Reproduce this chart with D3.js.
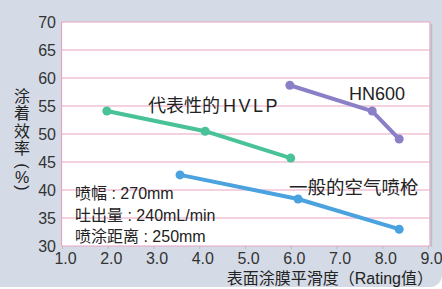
<!DOCTYPE html>
<html lang="zh">
<head>
<meta charset="utf-8" />
<style>
body { margin: 0; background: #fff; }
text { font-family: "Liberation Sans", "Noto Sans CJK SC", sans-serif; fill: #222; }
.grid { stroke: #e8a3c4; stroke-width: 1.2px; }
.tick text { fill: #333; }
</style>
</head>
<body>
<script src="https://cdn.jsdelivr.net/npm/d3@7"></script>
<script>
var xTicks = [1, 2, 3, 4, 5, 6, 7, 8, 9];
var yTicks = [30, 35, 40, 45, 50, 55, 60, 65, 70];

var hvlpX = [1.98, 4.13, 6.0];
var hvlpY = [54.1, 50.5, 45.7];
var hn600X = [5.98, 7.78, 8.37];
var hn600Y = [58.7, 54.1, 49.1];
var normalX = [3.58, 6.16, 8.37];
var normalY = [42.7, 38.4, 33.0];

var notes = ["喷幅 : 270mm", "吐出量 : 240mL/min", "喷涂距离 : 250mm"];
var yTitleChars = ["涂", "着", "效", "率", "(", "%", ")"];

var width = 442, height = 289;

var svg = d3.select("body").append("svg")
    .attr("width", width)
    .attr("height", height);

// background panel
svg.append("rect")
    .attr("x", -20).attr("y", -20)
    .attr("width", width + 20).attr("height", height + 18)
    .attr("rx", 12)
    .attr("fill", "#d4dbe6");

var x = d3.scaleLinear().domain([1, 9]).range([62, 428]);
var y = d3.scaleLinear().domain([30, 70]).range([246, 22]);

// plot area
svg.append("rect")
    .attr("x", 62).attr("y", y(70))
    .attr("width", 430 - 62).attr("height", y(30) - y(70))
    .attr("fill", "#fff");

svg.selectAll(".grid")
    .data(yTicks)
    .enter().append("line")
    .attr("class", "grid")
    .attr("x1", 61).attr("x2", 430)
    .attr("y1", function (d) { return y(d); })
    .attr("y2", function (d) { return y(d); });

svg.append("line").attr("class", "grid")
    .attr("x1", 61.5).attr("x2", 61.5).attr("y1", y(70)).attr("y2", y(30));
svg.append("line").attr("class", "grid")
    .attr("x1", 430).attr("x2", 430).attr("y1", y(70)).attr("y2", y(30));
svg.append("line")
    .attr("x1", 431.5).attr("x2", 431.5).attr("y1", y(70) + 2).attr("y2", y(30) + 1)
    .attr("stroke", "#b9c0cb").attr("stroke-width", 1.5);

// axes
var xAxis = svg.append("g")
    .attr("transform", "translate(0," + y(30) + ")")
    .call(d3.axisBottom(x).tickValues(xTicks).tickFormat(d3.format(".1f")).tickSize(3).tickPadding(4));
xAxis.select(".domain").remove();
xAxis.selectAll(".tick line").attr("stroke", "#bbb");
xAxis.selectAll(".tick text").attr("x", 3).style("font-size", "16px");

var yAxis = svg.append("g")
    .attr("transform", "translate(59,0)")
    .call(d3.axisLeft(y).tickValues(yTicks).tickSize(0).tickPadding(3));
yAxis.select(".domain").remove();
yAxis.selectAll(".tick text").style("font-size", "16px");

// axis titles
svg.selectAll(".ytitle")
    .data(yTitleChars)
    .enter().append("text")
    .attr("class", "ytitle")
    .attr("text-anchor", "middle")
    .attr("dominant-baseline", "central")
    .style("font-size", "16px")
    .attr("transform", function (d, i) {
        var cy = i < 4 ? 96 + i * 17.5 : 166 + (i - 4) * 11;
        return "translate(22," + cy + ")" + (d === "(" || d === ")" ? " rotate(90)" : "");
    })
    .text(function (d) { return d; });

svg.append("text")
    .attr("x", 433).attr("y", 284)
    .attr("text-anchor", "end")
    .style("font-size", "16px")
    .text("表面涂膜平滑度（Rating值）");

// series
var series = [
    { xs: hvlpX, ys: hvlpY, color: "#48c296" },
    { xs: hn600X, ys: hn600Y, color: "#8a80c8" },
    { xs: normalX, ys: normalY, color: "#4aa2de" }
];

var line = d3.line()
    .x(function (d) { return x(d[0]); })
    .y(function (d) { return y(d[1]); });

series.forEach(function (s) {
    var pts = d3.zip(s.xs, s.ys);
    svg.append("path")
        .datum(pts)
        .attr("d", line)
        .attr("fill", "none")
        .attr("stroke", s.color)
        .attr("stroke-width", 4)
        .attr("stroke-linejoin", "round");
    svg.selectAll(null)
        .data(pts)
        .enter().append("circle")
        .attr("cx", function (d) { return x(d[0]); })
        .attr("cy", function (d) { return y(d[1]); })
        .attr("r", 4.5)
        .attr("fill", s.color);
});

// series labels
var hvlp = svg.append("text").attr("x", 148).attr("y", 112)
    .style("font-size", "18px");
hvlp.append("tspan").text("代表性的");
hvlp.append("tspan").attr("dx", 3).style("letter-spacing", "2.5px").text("HVLP");
svg.append("text").attr("x", 349).attr("y", 100)
    .style("font-size", "18px")
    .text("HN600");
svg.append("text").attr("x", 289).attr("y", 194)
    .style("font-size", "18.5px")
    .text("一般的空气喷枪");

svg.selectAll(".note")
    .data(notes)
    .enter().append("text")
    .attr("class", "note")
    .attr("x", 75)
    .attr("y", function (d, i) { return 199 + i * 21.5; })
    .style("font-size", "16px")
    .text(function (d) { return d; });
</script>
</body>
</html>
